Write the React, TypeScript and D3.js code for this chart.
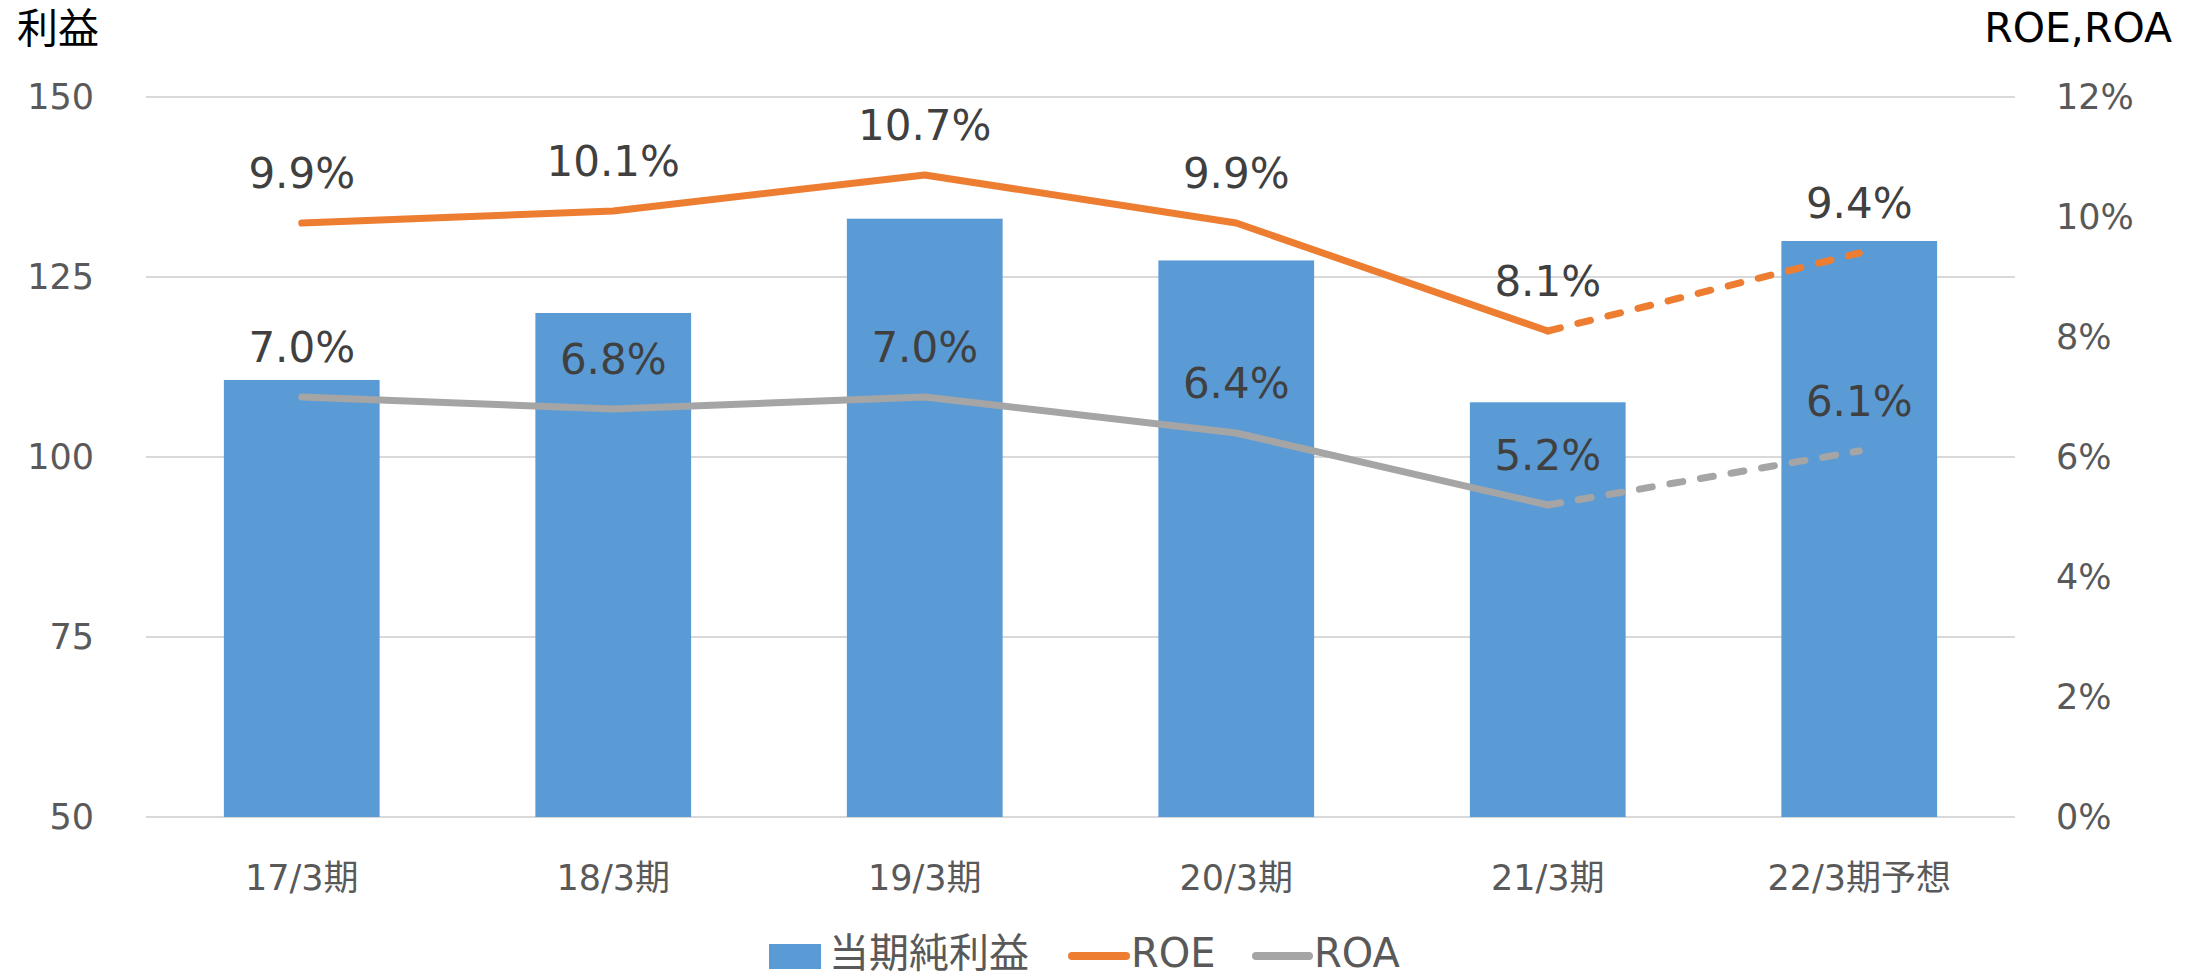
import * as React from "react";
import * as d3 from "d3";

// chart data
const categories = ["17/3期", "18/3期", "19/3期", "20/3期", "21/3期", "22/3期予想"];
const netIncome = [110.7, 120.0, 133.1, 127.3, 107.6, 130.0];
const roe = [9.9, 10.1, 10.7, 9.9, 8.1, 9.4];
const roa = [7.0, 6.8, 7.0, 6.4, 5.2, 6.1];
const leftTicks = [50, 75, 100, 125, 150];
const rightTicks = [0, 2, 4, 6, 8, 10, 12];
const forecastFrom = 4; // segment from this index on is dashed

const W = 2201;
const H = 978;
const font = "'DejaVu Sans', 'Noto Sans CJK JP', sans-serif";

export default function App() {
    let left = 146, right = 2015, top = 97, bottom = 817;

    let x = d3.scaleBand().domain(categories).range([left, right]).paddingInner(0.5).paddingOuter(0.25);
    let yL = d3.scaleLinear().domain([50, 150]).range([bottom, top]);
    let yR = d3.scaleLinear().domain([0, 12]).range([bottom, top]);
    let cx = (c: string) => (x(c) as number) + x.bandwidth() / 2;

    let line = d3.line<number>().x((d, i) => cx(categories[i])).y(d => yR(d));

    const seriesPaths = (vals: number[], color: string) => {
        let solid = line.defined((d, i) => i <= forecastFrom)(vals) as string;
        let dashed = line.defined((d, i) => i >= forecastFrom)(vals) as string;
        line.defined(() => true);
        return (
            <g fill="none" stroke={color} strokeWidth={7} strokeLinecap="round" strokeLinejoin="round">
                <path d={solid} />
                <path d={dashed} strokeDasharray="13 18" />
            </g>
        );
    };

    return (
        <div>
            <style>{"body{margin:0}"}</style>
            <svg width={W} height={H} style={{ display: "block", fontFamily: font }}>
                <rect width={W} height={H} fill="#fff" />

                {/* gridlines */}
                {leftTicks.map(t => (
                    <line key={t} x1={left} x2={right} y1={yL(t)} y2={yL(t)} stroke="#d9d9d9" strokeWidth={2} />
                ))}

                {/* bars */}
                {categories.map((c, i) => (
                    <rect key={c} x={x(c)} y={yL(netIncome[i])} width={x.bandwidth()}
                        height={bottom - yL(netIncome[i])} fill="#5b9bd5" />
                ))}

                {seriesPaths(roe, "#ed7d31")}
                {seriesPaths(roa, "#a5a5a5")}

                {/* data labels */}
                {categories.map((c, i) => (
                    <g key={c} fontSize={42} fill="#404040" textAnchor="middle">
                        <text x={cx(c)} y={yR(roe[i]) - 35}>{roe[i].toFixed(1)}%</text>
                        <text x={cx(c)} y={yR(roa[i]) - 35}>{roa[i].toFixed(1)}%</text>
                    </g>
                ))}

                {/* left axis */}
                {leftTicks.map(t => (
                    <text key={t} x={94} y={yL(t) + 12} fontSize={35} fill="#595959" textAnchor="end">{t}</text>
                ))}
                {/* right axis */}
                {rightTicks.map(t => (
                    <text key={t} x={2056} y={yR(t) + 12} fontSize={35} fill="#595959">{t}%</text>
                ))}
                {/* x axis labels */}
                {categories.map(c => (
                    <text key={c} x={cx(c)} y={890} fontSize={35} fill="#595959" textAnchor="middle">{c}</text>
                ))}

                <text x={17} y={43} fontSize={41} fill="#000">利益</text>
                <text x={2172} y={42} fontSize={41} fill="#000" textAnchor="end">ROE,ROA</text>

                {/* legend */}
                <g fontSize={40} fill="#595959">
                    <rect x={769} y={944} width={52} height={25} fill="#5b9bd5" />
                    <text x={829} y={967}>当期純利益</text>
                    <line x1={1072} x2={1126} y1={956} y2={956} stroke="#ed7d31" strokeWidth={8} strokeLinecap="round" />
                    <text x={1131} y={967}>ROE</text>
                    <line x1={1256} x2={1309} y1={956} y2={956} stroke="#a5a5a5" strokeWidth={8} strokeLinecap="round" />
                    <text x={1314} y={967}>ROA</text>
                </g>
            </svg>
        </div>
    );
}
